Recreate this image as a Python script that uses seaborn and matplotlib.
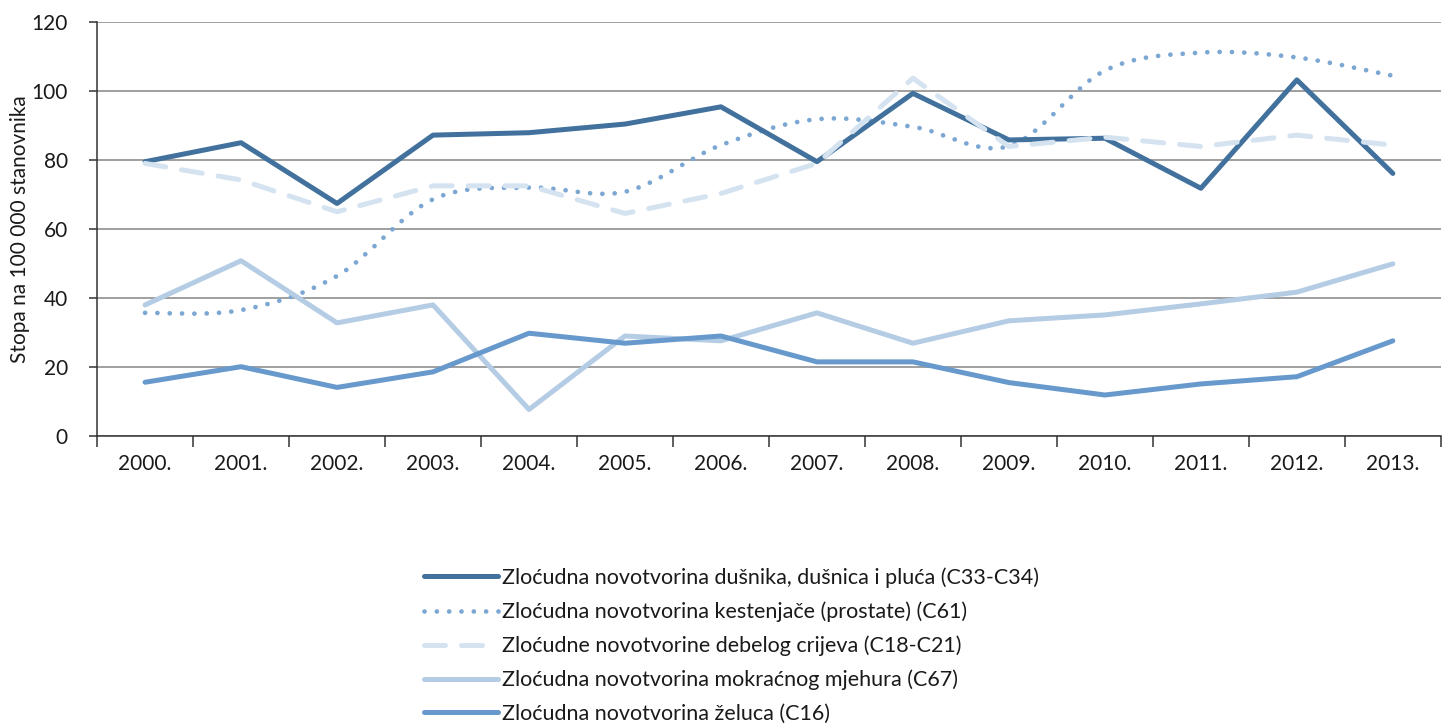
import numpy as np
import pandas as pd
import matplotlib
matplotlib.use("Agg")
import matplotlib.pyplot as plt
from matplotlib.path import Path
from matplotlib.patches import PathPatch
from matplotlib.lines import Line2D
from matplotlib.ticker import FixedLocator
import seaborn as sns

# data
years = ["2000.", "2001.", "2002.", "2003.", "2004.", "2005.", "2006.",
         "2007.", "2008.", "2009.", "2010.", "2011.", "2012.", "2013."]
pluca = [79.5, 85.0, 67.4, 87.2, 87.9, 90.4, 95.4, 79.5, 99.3, 85.8, 86.3, 71.8, 103.2, 76.1]
prostata = [35.7, 36.5, 46.4, 68.6, 72.0, 70.8, 84.3, 91.8, 89.6, 84.0, 105.9, 111.1, 109.7, 104.4]
crijevo = [79.0, 74.2, 65.0, 72.5, 72.5, 64.5, 70.3, 79.0, 103.7, 83.9, 86.6, 83.9, 87.2, 84.3]
mjehur = [38.0, 50.8, 32.8, 38.0, 7.7, 29.0, 27.6, 35.7, 26.9, 33.4, 35.1, 38.3, 41.7, 49.9]
zeludac = [15.6, 20.1, 14.1, 18.6, 29.8, 26.9, 29.0, 21.5, 21.5, 15.5, 11.9, 15.1, 17.2, 27.6]

labels = ["Zloćudna novotvorina dušnika, dušnica i pluća (C33-C34)",
          "Zloćudna novotvorina kestenjače (prostate) (C61)",
          "Zloćudne novotvorine debelog crijeva (C18-C21)",
          "Zloćudna novotvorina mokraćnog mjehura (C67)",
          "Zloćudna novotvorina želuca (C16)"]
colors = ["#41719C", "#7BA7D2", "#D5E3F1", "#B4CCE4", "#6799CC"]

sns.set_theme(style="white")
plt.rcParams["font.family"] = ["Lato", "DejaVu Sans"]

fig = plt.figure(figsize=(14.51, 7.28), dpi=100)
ax = fig.add_axes([0.0669, 0.401, 0.9261, 0.5689])

x = np.arange(len(years))
lw = 3.6


def smooth_path(xs, ys):
    # bezier segments like a spreadsheet "smoothed line"
    pts = np.column_stack([xs, ys]).astype(float)
    n = len(pts)
    verts = [pts[0]]
    codes = [Path.MOVETO]
    for i in range(n - 1):
        p0 = pts[max(i - 1, 0)]
        p1 = pts[i]
        p2 = pts[i + 1]
        p3 = pts[min(i + 2, n - 1)]
        c1 = p1 + (p2 - p0) / 6.0
        c2 = p2 - (p3 - p1) / 6.0
        verts += [c1, c2, p2]
        codes += [Path.CURVE4] * 3
    return Path(verts, codes)


# lung
sns.lineplot(x=x, y=pluca, ax=ax, color=colors[0], lw=lw, solid_capstyle="round")
# prostate - smoothed dotted
patch = PathPatch(smooth_path(x, prostata), fill=False, edgecolor=colors[1],
                  lw=3.4, linestyle=(0, (0.01, 2.6)), capstyle="round")
ax.add_patch(patch)
# colon - dashed
sns.lineplot(x=x, y=crijevo, ax=ax, color=colors[2], lw=lw,
             linestyle=(0, (4.2, 3.2)), dash_capstyle="round")
# bladder
sns.lineplot(x=x, y=mjehur, ax=ax, color=colors[3], lw=lw, solid_capstyle="round")
# stomach
sns.lineplot(x=x, y=zeludac, ax=ax, color=colors[4], lw=lw, solid_capstyle="round")

ax.set_xlim(-0.5, len(years) - 0.5)
ax.set_ylim(0, 120)
ax.set_yticks(range(0, 121, 20))
ax.grid(axis="y", color="#858585", lw=1.1)
ax.set_axisbelow(True)

ax.xaxis.set_major_locator(FixedLocator(np.arange(-0.5, len(years), 1.0)))
ax.set_xticklabels([])
ax.xaxis.set_minor_locator(FixedLocator(x))
ax.set_xticklabels(years, minor=True)
ax.tick_params(axis="x", which="major", direction="out", length=8, width=1.1,
               color="#333333", bottom=True)
ax.tick_params(axis="x", which="minor", length=0, pad=13, labelsize=15,
               labelcolor="#1a1a1a")
ax.tick_params(axis="y", direction="out", length=6, width=1.1, color="#333333",
               left=True, labelsize=15, labelcolor="#1a1a1a", pad=15)

for s in ["top", "right"]:
    ax.spines[s].set_visible(False)
for s in ["left", "bottom"]:
    ax.spines[s].set_color("#333333")
    ax.spines[s].set_linewidth(1.1)

ax.set_ylabel("Stopa na 100 000 stanovnika", fontsize=15, color="#1a1a1a")
ax.yaxis.set_label_coords(-0.050, 0.5)
ax.set_xlabel("")

handles = [
    Line2D([], [], color=colors[0], lw=lw, solid_capstyle="round"),
    Line2D([], [], color=colors[1], lw=3.4, linestyle=(0, (0.01, 2.6)),
           dash_capstyle="round"),
    Line2D([], [], color=colors[2], lw=lw, linestyle=(0, (4.2, 3.2)),
           dash_capstyle="round"),
    Line2D([], [], color=colors[3], lw=lw, solid_capstyle="round"),
    Line2D([], [], color=colors[4], lw=lw, solid_capstyle="round"),
]
fig.legend(handles, labels, loc="upper left", bbox_to_anchor=(0.286, 0.2325),
           frameon=False, fontsize=15.5, handlelength=3.45, handletextpad=0.2,
           labelspacing=0.63, labelcolor="#1a1a1a", borderaxespad=0)

fig.savefig("out.png", dpi=100)
